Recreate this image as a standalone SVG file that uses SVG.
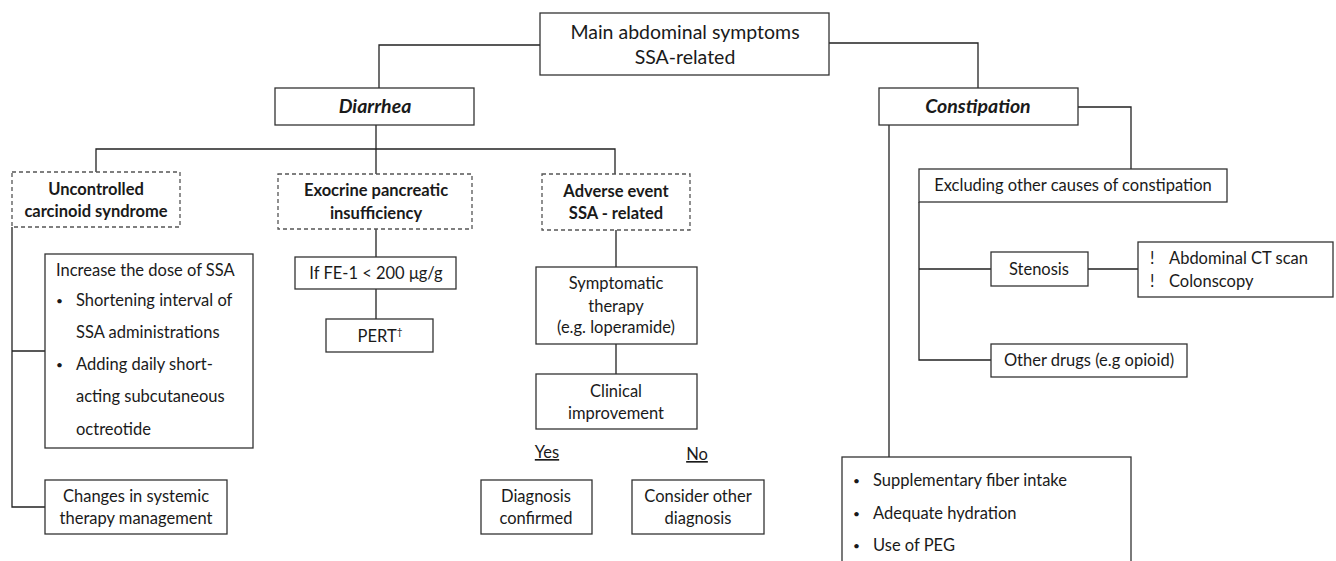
<svg xmlns="http://www.w3.org/2000/svg" width="1336" height="561" viewBox="0 0 1336 561">
<style>
.b{fill:#fff;stroke:#333;stroke-width:1.3}
.d{fill:#fff;stroke:#555;stroke-width:1.3;stroke-dasharray:4 3}
.c{fill:none;stroke:#222;stroke-width:1.3}
text{font-family:Lato,"Liberation Sans",sans-serif;font-size:16.5px;fill:#1a1a1a}
.m{text-anchor:middle}
.bo{font-weight:bold;font-size:16.5px}
.bi{font-weight:bold;font-style:italic;font-size:19.5px}
.t{font-size:19.5px}
.u{font-size:12px}
</style>
<rect width="1336" height="561" fill="#fff"/>
<g id="connectors">
<path class="c" d="M540 45H379V88M829 43H978V88"/>
<path class="c" d="M376 125V174M96 172V149H615V174"/>
<path class="c" d="M1078 107H1131V169M889 125V457"/>
<path class="c" d="M919 202V360H991M919 269H991M1088 269H1138"/>
<path class="c" d="M12 227V507H45M12 351H45"/>
<path class="c" d="M376 229V257M376 289V319"/>
<path class="c" d="M616 230V267M616 344V374"/>
</g>
<g id="top"><rect class="b" x="540" y="13" width="289" height="62"/>
<text class="m t" x="685" y="39">Main abdominal symptoms</text>
<text class="m t" x="685" y="64">SSA-related</text></g>
<g id="diarrhea"><rect class="b" x="275" y="88" width="199" height="37"/>
<text class="m bi" x="375" y="113">Diarrhea</text></g>
<g id="constipation"><rect class="b" x="879" y="88" width="199" height="37"/>
<text class="m bi" x="978" y="113">Constipation</text></g>
<g id="uncontrolled"><rect class="d" x="12" y="172" width="168" height="55"/>
<text class="m bo" x="96" y="195">Uncontrolled</text>
<text class="m bo" x="96" y="217">carcinoid syndrome</text></g>
<g id="exocrine"><rect class="d" x="278" y="174" width="194" height="55"/>
<text class="m bo" x="376" y="196">Exocrine pancreatic</text>
<text class="m bo" x="376" y="219">insufficiency</text></g>
<g id="adverse"><rect class="d" x="542" y="174" width="148" height="56"/>
<text class="m bo" x="616" y="197">Adverse event</text>
<text class="m bo" x="616" y="219">SSA - related</text></g>
<g id="increase"><rect class="b" x="45" y="254" width="208" height="194"/>
<text x="56" y="276">Increase the dose of SSA</text>
<text class="u" x="56" y="305">•</text><text x="76" y="306">Shortening interval of</text>
<text x="76" y="338">SSA administrations</text>
<text class="u" x="56" y="369">•</text><text x="76" y="370">Adding daily short-</text>
<text x="76" y="402">acting subcutaneous</text>
<text x="76" y="435">octreotide</text></g>
<g id="changes"><rect class="b" x="45" y="480" width="182" height="54"/>
<text class="m" x="136" y="502">Changes in systemic</text>
<text class="m" x="136" y="524">therapy management</text></g>
<g id="fe1"><rect class="b" x="295" y="257" width="161" height="32"/>
<text class="m" x="376" y="279">If FE-1 &lt; 200 μg/g</text></g>
<g id="pert"><rect class="b" x="326" y="319" width="107" height="33"/>
<text class="m" x="380" y="342">PERT<tspan font-size="10" dy="-7">†</tspan></text></g>
<g id="symptomatic"><rect class="b" x="536" y="267" width="161" height="77"/>
<text class="m" x="616" y="289">Symptomatic</text>
<text class="m" x="616" y="312">therapy</text>
<text class="m" x="616" y="333">(e.g. loperamide)</text></g>
<g id="clinical"><rect class="b" x="536" y="374" width="161" height="55"/>
<text class="m" x="616" y="397">Clinical</text>
<text class="m" x="616" y="419">improvement</text></g>
<g id="yes"><text class="m" x="547" y="458" text-decoration="underline">Yes</text></g>
<g id="no"><text class="m" x="697" y="460" text-decoration="underline">No</text></g>
<g id="confirmed"><rect class="b" x="481" y="480" width="111" height="54"/>
<text class="m" x="536" y="502">Diagnosis</text>
<text class="m" x="536" y="524">confirmed</text></g>
<g id="consider"><rect class="b" x="632" y="480" width="132" height="54"/>
<text class="m" x="698" y="502">Consider other</text>
<text class="m" x="698" y="524">diagnosis</text></g>
<g id="excluding"><rect class="b" x="919" y="169" width="308" height="33"/>
<text class="m" x="1073" y="191">Excluding other causes of constipation</text></g>
<g id="stenosis"><rect class="b" x="991" y="252" width="97" height="34"/>
<text class="m" x="1039" y="275">Stenosis</text></g>
<g id="tests"><rect class="b" x="1138" y="242" width="195" height="55"/>
<text x="1150" y="264">!</text><text x="1169" y="264">Abdominal CT scan</text>
<text x="1150" y="287">!</text><text x="1169" y="287">Colonscopy</text></g>
<g id="otherdrugs"><rect class="b" x="991" y="344" width="196" height="33"/>
<text class="m" x="1089" y="366">Other drugs (e.g opioid)</text></g>
<g id="measures"><rect class="b" x="842" y="457" width="289" height="120"/>
<text class="u" x="853" y="485">•</text><text x="873" y="486">Supplementary fiber intake</text>
<text class="u" x="853" y="518">•</text><text x="873" y="519">Adequate hydration</text>
<text class="u" x="853" y="550">•</text><text x="873" y="551">Use of PEG</text></g>
</svg>
